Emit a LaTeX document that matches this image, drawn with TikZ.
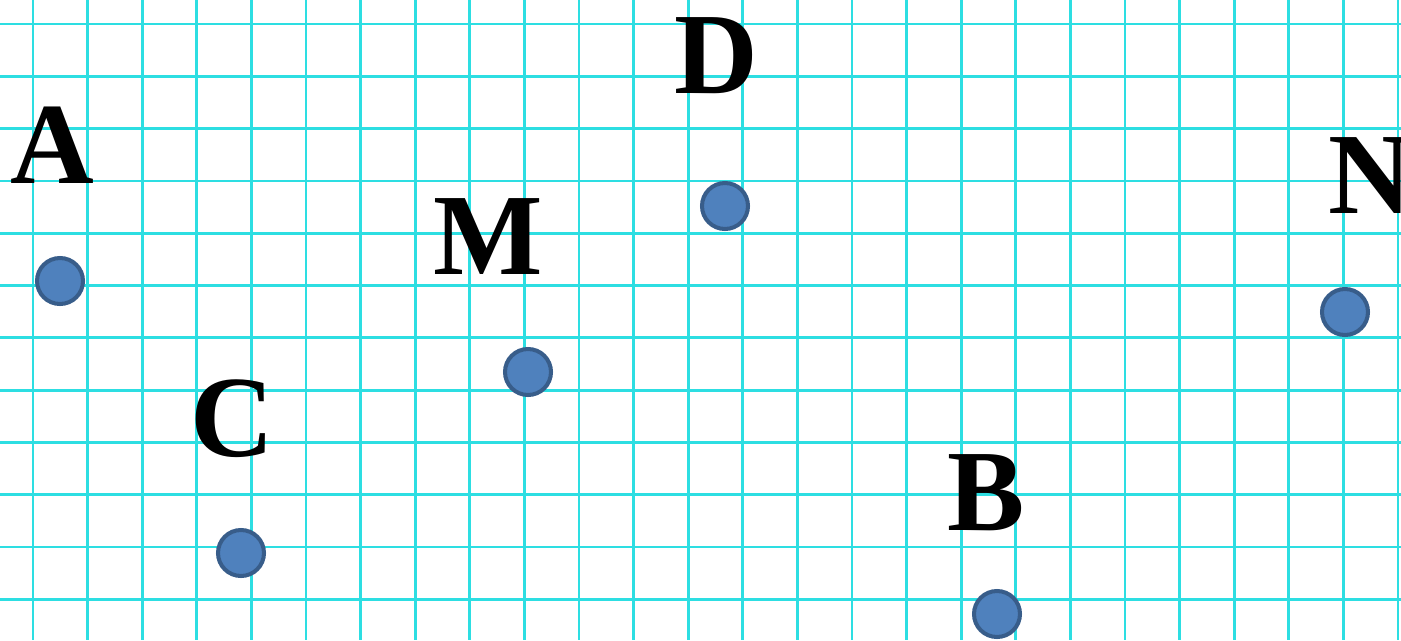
\documentclass[tikz,border=0pt]{standalone}
\usepackage{fontspec}
\setmainfont{Liberation Serif}
\definecolor{gridCyan}{RGB}{45,222,226}
\definecolor{dotBlue}{RGB}{79,129,189}
\definecolor{dotEdge}{RGB}{56,93,138}
\usetikzlibrary{positioning}

\begin{document}
\begin{tikzpicture}[x=0.02cm, y=-0.02cm,
    gridline/.style={draw=gridCyan, line width=1.6pt},
    dot/.style={circle, inner sep=0pt, minimum size=0.92cm,
                fill=dotBlue, draw=dotEdge, line width=2.3pt},
    lbl/.style={anchor=base, inner sep=0pt,
                font=\fontsize{66}{66}\selectfont\bfseries}
  ]
  \useasboundingbox (0,0) rectangle (1401,640);
  \fill[white] (0,0) rectangle (1401,640);

  % squared paper
  \foreach \k in {0,...,25}
    \draw[gridline] (33+54.6*\k,0) -- (33+54.6*\k,640);
  \foreach \k in {0,...,11}
    \draw[gridline] (0,24+52.3*\k) -- (1401,24+52.3*\k);

  % points
  \node[dot] (pA) at (60,281)   {};
  \node[dot] (pC) at (241,553)  {};
  \node[dot] (pM) at (528,372)  {};
  \node[dot] (pD) at (725,206)  {};
  \node[dot] (pB) at (997,614)  {};
  \node[dot] (pN) at (1345,312) {};

  % letters
  \node[lbl] (lblA) at (52,183)   {A};
  \node[lbl] (lblC) at (232,456)  {C};
  \node[lbl] (lblM) at (488,274)  {M};
  \node[lbl] (lblD) at (716,93)   {D};
  \node[lbl] (lblB) at (986,530)  {B};
  \node[lbl] (lblN) at (1370,213) {N};
\end{tikzpicture}
\end{document}
